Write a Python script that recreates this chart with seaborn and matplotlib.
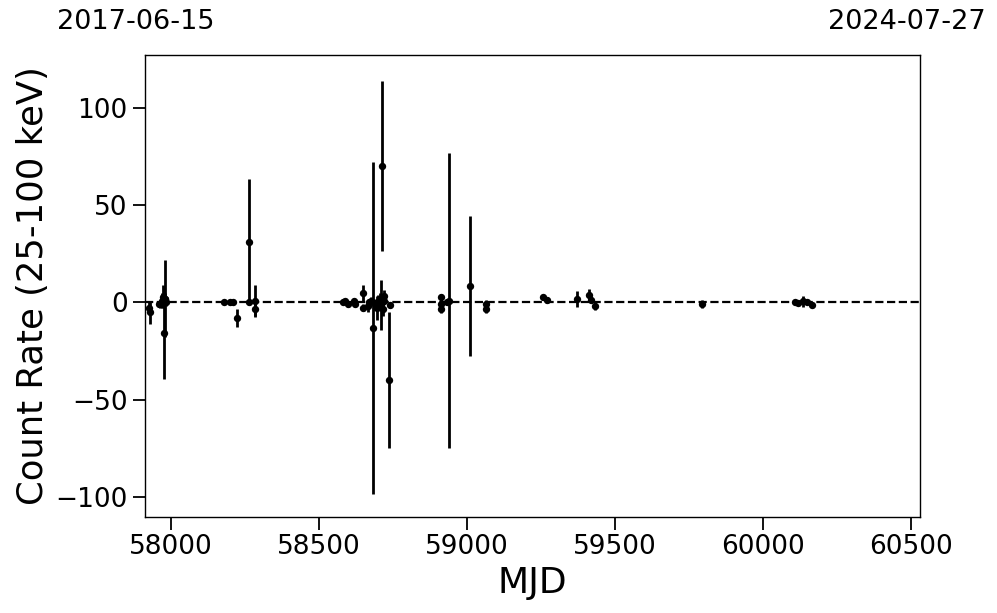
import numpy as np
import pandas as pd
import matplotlib
matplotlib.use("Agg")
import matplotlib.pyplot as plt
import seaborn as sns

# light curve points (MJD, count rate 25-100 keV, 1-sigma error)
mjd = [57927, 57928, 57960, 57963, 57966, 57970, 57972, 57975, 57978, 57980, 57983,
       58179, 58199, 58210, 58224, 58263, 58263, 58283, 58285,
       58580, 58588, 58598, 58618, 58622, 58650, 58650, 58665, 58670, 58675, 58681,
       58690, 58695, 58700, 58705, 58708, 58712, 58715, 58718, 58720, 58736, 58740,
       58911, 58912, 58913, 58931, 58940, 59010, 59064, 59065,
       59258, 59269, 59370, 59413, 59418, 59432, 59793,
       60108, 60119, 60136, 60147, 60164]
rate = [-3.0, -5.0, -1.0, -1.0, -0.5, 1.0, 3.0, -15.5, 2.0, 2.0, 0.0,
        0.0, 0.5, 0.0, -8.0, 31.0, 0.0, 1.0, -3.5,
        0.0, 1.0, -1.0, 1.0, -1.0, 4.8, -2.6, -2.0, 0.0, 1.0, -13.0,
        -1.0, -2.6, 0.0, 2.0, -1.5, 70.5, -3.4, 3.6, 1.0, -40.0, -1.2,
        2.6, -0.9, -3.4, 0.0, 0.8, 8.3, -0.9, -3.4,
        2.6, 1.2, 1.7, 4.0, 1.5, -1.8, -0.9,
        0.0, -0.3, 0.6, 0.5, -1.2]
err = [3.0, 6.0, 1.5, 2.0, 2.0, 4.0, 6.0, 24.0, 20.0, 3.0, 2.0,
       1.0, 1.0, 1.0, 4.7, 32.5, 1.0, 8.0, 4.0,
       1.0, 1.0, 1.5, 1.5, 1.5, 4.0, 2.0, 3.0, 2.0, 2.0, 85.5,
       3.0, 6.2, 4.0, 3.0, 12.9, 43.8, 3.4, 3.0, 2.0, 35.0, 1.5,
       2.0, 2.0, 2.0, 1.5, 76.0, 36.0, 2.0, 2.0,
       1.5, 1.5, 4.0, 3.0, 2.0, 2.0, 2.0,
       1.0, 1.0, 3.0, 1.0, 1.0]

x_range = [57919, 60518]
date_labels = ["2017-06-15", "2024-07-27"]

df = pd.DataFrame({"MJD": mjd, "rate": rate, "err": err})

sns.set_style("ticks", {"axes.edgecolor": "black", "text.color": "black",
                        "axes.labelcolor": "black", "xtick.color": "black",
                        "ytick.color": "black"})
plt.rcParams["font.family"] = ["DejaVu Sans"]

fig = plt.figure(figsize=(9.97, 6.13), dpi=100)
ax = fig.add_axes([0.1454, 0.1566, 0.7774, 0.7537])

ax.errorbar(df["MJD"], df["rate"], yerr=df["err"], fmt="none",
            ecolor="black", elinewidth=2, capsize=0, zorder=2)
sns.scatterplot(data=df, x="MJD", y="rate", color="black", s=28,
                edgecolor="black", linewidth=0, ax=ax, zorder=3)
ax.axhline(0, color="black", ls="--", lw=1.6, zorder=1)

ax.set_xlim(x_range[0] - 7, x_range[1] + 12)
ax.set_ylim(-110.5, 127.5)
ax.set_xticks([58000, 58500, 59000, 59500, 60000, 60500])
ax.set_yticks([-100, -50, 0, 50, 100])
ax.tick_params(axis="both", labelsize=19, length=9, width=1.3, colors="black")
ax.set_xlabel("MJD", fontsize=26)
ax.set_ylabel("Count Rate (25-100 keV)", fontsize=25.5)
for sp in ax.spines.values():
    sp.set_linewidth(1.0)
    sp.set_color("black")

ax.text(-0.0116, 1.071, date_labels[0], transform=ax.transAxes,
        ha="center", va="center", fontsize=19.5, color="black")
ax.text(0.983, 1.071, date_labels[1], transform=ax.transAxes,
        ha="center", va="center", fontsize=19.5, color="black")

fig.savefig("out.png", dpi=100)
